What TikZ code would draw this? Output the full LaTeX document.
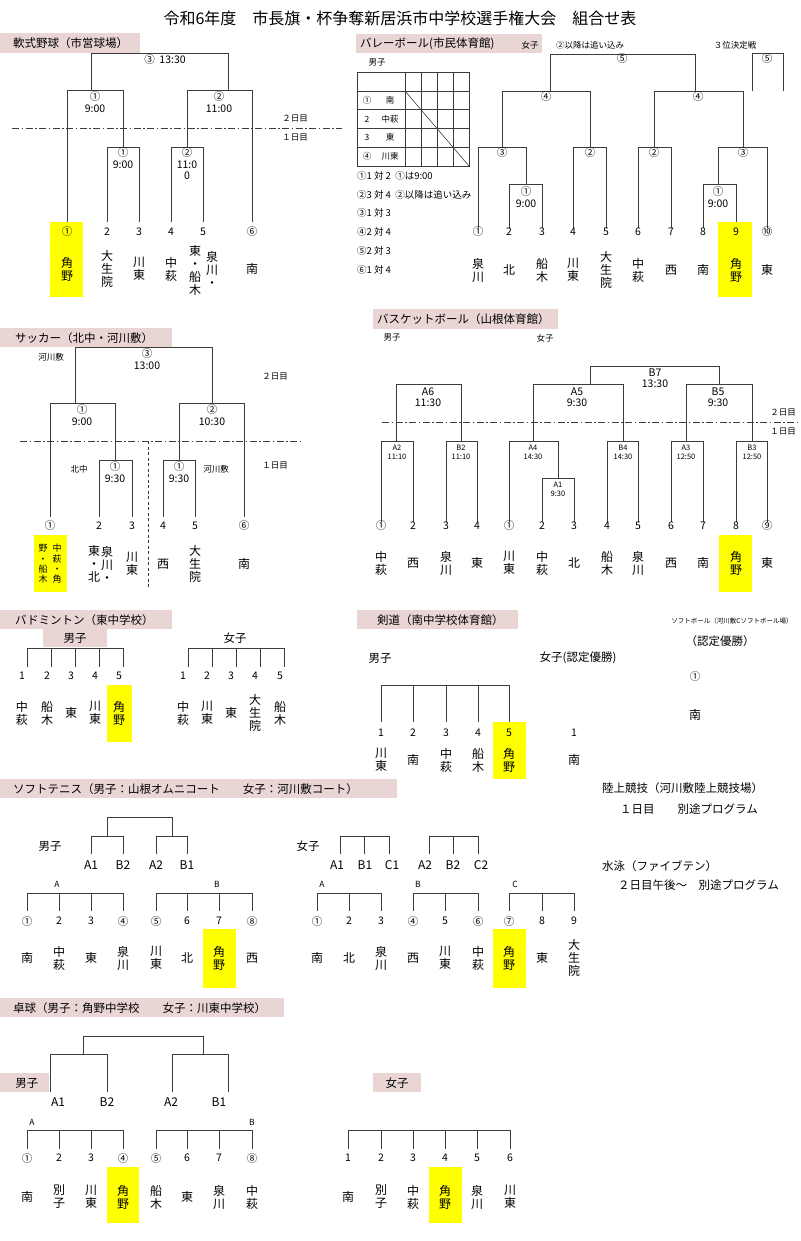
\documentclass[tikz,border=0pt]{standalone}
\usepackage{fontspec}
\setmainfont{Noto Sans CJK JP}
\usetikzlibrary{positioning}
\definecolor{kmPink}{HTML}{EAD5D5}
\definecolor{kmYellow}{HTML}{FFFF00}
\definecolor{kmLine}{HTML}{3C3C3C}
\tikzset{
  hdtext/.style={anchor=west, inner sep=0pt, font=\fontsize{11.5}{13}\selectfont},
  titletext/.style={inner sep=0pt, font=\fontsize{16}{18}\selectfont},
  brline/.style={draw=kmLine, line width=0.9pt},
  dayline/.style={draw=kmLine, line width=0.8pt, dash pattern=on 7pt off 2.5pt on 1.5pt off 2.5pt},
  splitline/.style={draw=kmLine, line width=0.7pt, dash pattern=on 3pt off 2.5pt},
  seednum/.style={inner sep=0pt, font=\fontsize{10.5}{12}\selectfont},
  school/.style={inner sep=0pt, align=center, font=\fontsize{12}{13}\selectfont},
  smschool/.style={inner sep=0pt, align=center, font=\fontsize{9}{10.3}\selectfont},
  boutlbl/.style={inner sep=0pt, align=center, font=\fontsize{10.5}{11.5}\selectfont},
  minilbl/.style={inner sep=0pt, align=center, font=\fontsize{7.5}{9}\selectfont},
  grplbl/.style={inner sep=0pt, font=\fontsize{12}{14}\selectfont},
  memo/.style={inner sep=0pt, font=\fontsize{8.5}{10}\selectfont},
  rulememo/.style={inner sep=0pt, anchor=west, font=\fontsize{9.5}{11}\selectfont},
  plain/.style={inner sep=0pt, font=\fontsize{11.5}{13}\selectfont},
}
\newcommand{\bout}[5]{\draw[brline] (#1,#4) |- (#2,#3) -- (#2,#5);}

\begin{document}
\begin{tikzpicture}[x=1pt, y=-1pt]
\useasboundingbox (0,0) rectangle (800,1241);
\node[titletext] (title) at (400,18) {令和6年度　市長旗・杯争奪新居浜市中学校選手権大会　組合せ表};

\fill[kmPink] (0,33) rectangle (140,53);
\node[hdtext] (bsHead) at (13,43) {軟式野球（市営球場）};
\bout{91}{228}{53}{90}{90}
\node[boutlbl] (bsF) at (165,60) {③\ \ 13:30};
\bout{67}{123}{90}{222}{147}
\bout{187}{252}{90}{147}{222}
\bout{107}{139}{147}{222}{222}
\bout{171}{203}{147}{222}{222}
\node[boutlbl] (bsS1) at (95,102) {①\\9:00};
\node[boutlbl] (bsS2) at (219,102) {②\\11:00};
\node[boutlbl] (bsR1) at (123,158) {①\\9:00};
\node[boutlbl] (bsR2) at (187,164) {②\\11:0\\0};
\draw[dayline] (12,128) -- (342,128);
\node[memo] (bsD2) at (295,119) {２日目};
\node[memo] (bsD1) at (295,138) {１日目};
\fill[kmYellow] (50,222) rectangle (83,297);
\foreach \x/\n [count=\i] in {67/①,107/2,139/3,171/4,203/5,252/⑥}
  \node[seednum] (bs-n\i) at (\x,232) {\n};
\foreach \x/\t [count=\i] in {67/{角\\野},107/{大\\生\\院},139/{川\\東},171/{中\\萩},252/南}
  \node[school] (bs-t\i) at (\x,269) {\t};
\node[school] (bs-t6a) at (212,269) {泉\\川\\・};
\node[school] (bs-t6b) at (195,270) {東\\・\\船\\木};

\fill[kmPink] (356,34) rectangle (542,53);
\node[hdtext] (vbHead) at (360,44) {バレーボール(市民体育館)};
\node[memo] (vbGirls) at (530,45) {女子};
\node[memo] (vbNote) at (590,45) {②以降は追い込み};
\node[memo] (vb3rd) at (735,45) {３位決定戦};
\node[memo] (vbBoys) at (377,63) {男子};
\draw[brline, line width=0.6pt] (357,72) rectangle (469,166);
\foreach \y in {91,109,128,147}
  \draw[brline, line width=0.6pt] (357,\y) -- (469,\y);
\foreach \x in {405,421,437,453}
  \draw[brline, line width=0.6pt] (\x,72) -- (\x,166);
\draw[brline, line width=0.6pt] (405,91) -- (469,166);
\foreach \y/\a/\b [count=\i] in {100/①/南,119/2/中萩,137/3/東,156/④/川東}{
  \node[memo] (vb-ra\i) at (367,\y) {\a};
  \node[memo] (vb-rb\i) at (390,\y) {\b};
}
\foreach \y/\t [count=\i] in {176/{①1 対 2\ \ ①は9:00},195/{②3 対 4\ \ ②以降は追い込み},213/③1 対 3,232/④2 対 4,251/⑤2 対 3,270/⑥1 対 4}
  \node[rulememo] (vb-m\i) at (357,\y) {\t};
\bout{550}{695}{54}{91}{91}
\bout{502}{590}{91}{147}{147}
\bout{654}{743}{91}{147}{147}
\bout{478}{526}{147}{228}{184}
\bout{509}{542}{184}{228}{228}
\bout{573}{606}{147}{228}{228}
\bout{638}{671}{147}{228}{228}
\bout{718}{767}{147}{184}{228}
\bout{703}{736}{184}{228}{228}
\bout{752}{783}{53}{91}{91}
\node[boutlbl] (vbF) at (622,59) {⑤};
\node[boutlbl] (vbT) at (767,59) {⑤};
\node[boutlbl] (vbS1) at (546,97) {④};
\node[boutlbl] (vbS2) at (698,97) {④};
\node[boutlbl] (vbQ1) at (502,153) {③};
\node[boutlbl] (vbQ2) at (590,153) {②};
\node[boutlbl] (vbQ3) at (654,153) {②};
\node[boutlbl] (vbQ4) at (743,153) {③};
\node[boutlbl] (vbR1) at (526,197) {①\\9:00};
\node[boutlbl] (vbR2) at (718,197) {①\\9:00};
\fill[kmYellow] (718,222) rectangle (752,297);
\foreach \x/\n [count=\i] in {478/①,509/2,542/3,573/4,606/5,638/6,671/7,703/8,736/9,767/⑩}
  \node[seednum] (vb-n\i) at (\x,232) {\n};
\foreach \x/\t [count=\i] in {478/{泉\\川},509/北,542/{船\\木},573/{川\\東},606/{大\\生\\院},638/{中\\萩},671/西,703/南,736/{角\\野},767/東}
  \node[school] (vb-t\i) at (\x,270) {\t};

\fill[kmPink] (0,328) rectangle (172,347);
\node[hdtext] (scHead) at (15,338) {サッカー（北中・河川敷）};
\node[memo] (scSite1) at (51,357) {河川敷};
\bout{75}{212}{347}{403}{403}
\node[boutlbl] (scF) at (147,359) {③\\13:00};
\node[memo] (scD2) at (275,377) {２日目};
\bout{50}{115}{403}{517}{460}
\bout{179}{244}{403}{460}{517}
\node[boutlbl] (scS1) at (82,415) {①\\9:00};
\node[boutlbl] (scS2) at (212,415) {②\\10:30};
\draw[dayline] (20,441) -- (302,441);
\draw[splitline] (148,441) -- (148,589);
\bout{99}{132}{460}{517}{517}
\bout{163}{195}{460}{517}{517}
\node[boutlbl] (scR1) at (115,472) {①\\9:30};
\node[boutlbl] (scR2) at (179,472) {①\\9:30};
\node[memo] (scSite2) at (79,469) {北中};
\node[memo] (scSite3) at (216,469) {河川敷};
\node[memo] (scD1) at (275,466) {１日目};
\fill[kmYellow] (34,535) rectangle (67,592);
\foreach \x/\n [count=\i] in {50/①,99/2,132/3,163/4,195/5,244/⑥}
  \node[seednum] (sc-n\i) at (\x,526) {\n};
\node[smschool] (sc-t1a) at (57,564) {中\\萩\\・\\角};
\node[smschool] (sc-t1b) at (43,564) {野\\・\\船\\木};
\node[school] (sc-t2a) at (107,564) {泉\\川\\・};
\node[school] (sc-t2b) at (94,564) {東\\・\\北};
\foreach \x/\t [count=\i] in {132/{川\\東},163/西,195/{大\\生\\院},244/南}
  \node[school] (sc-t\i) at (\x,564) {\t};

\fill[kmPink] (373,309) rectangle (558,329);
\node[hdtext] (bbHead) at (377,319) {バスケットボール（山根体育館）};
\node[memo] (bbBoys) at (392,338) {男子};
\node[memo] (bbGirls) at (545,338) {女子};
\bout{590}{719}{366}{384}{384}
\bout{396}{461}{384}{441}{441}
\bout{533}{623}{384}{441}{441}
\bout{686}{752}{384}{441}{441}
\node[boutlbl] (bbB7) at (655,378) {B7\\13:30};
\node[boutlbl] (bbA6) at (428,397) {A6\\11:30};
\node[boutlbl] (bbA5) at (577,397) {A5\\9:30};
\node[boutlbl] (bbB5) at (718,397) {B5\\9:30};
\draw[dayline] (382,422) -- (800,422);
\node[memo] (bbD2) at (783,413) {２日目};
\node[memo] (bbD1) at (783,432) {１日目};
\bout{381}{413}{441}{522}{522}
\bout{446}{477}{441}{522}{522}
\bout{509}{558}{441}{522}{478}
\bout{542}{574}{478}{522}{522}
\bout{607}{638}{441}{522}{522}
\bout{671}{703}{441}{522}{522}
\bout{736}{767}{441}{522}{522}
\foreach \x/\t [count=\i] in {397/{A2\\11:10},461/{B2\\11:10},533/{A4\\14:30},623/{B4\\14:30},686/{A3\\12:50},752/{B3\\12:50}}
  \node[minilbl] (bb-r\i) at (\x,452) {\t};
\node[minilbl] (bbA1) at (558,489) {A1\\9:30};
\fill[kmYellow] (719,535) rectangle (752,592);
\foreach \x/\n [count=\i] in {381/①,413/2,446/3,477/4,509/①,542/2,574/3,607/4,638/5,671/6,703/7,736/8,767/⑨}
  \node[seednum] (bb-n\i) at (\x,526) {\n};
\foreach \x/\t [count=\i] in {381/{中\\萩},413/西,446/{泉\\川},477/東,509/{川\\東},542/{中\\萩},574/北,607/{船\\木},638/{泉\\川},671/西,703/南,736/{角\\野},767/東}
  \node[school] (bb-t\i) at (\x,563) {\t};

\fill[kmPink] (0,610) rectangle (172,629);
\node[hdtext] (bdHead) at (15,620) {バドミントン（東中学校）};
\fill[kmPink] (43,629) rectangle (107,647);
\node[plain] (bdBoys) at (75,638) {男子};
\node[plain] (bdGirls) at (235,638) {女子};
\draw[brline] (27,648) -- (123,648);
\draw[brline] (188,648) -- (284,648);
\foreach \x in {27,51,75,99,123,188,212,236,260,284}
  \draw[brline] (\x,648) -- (\x,667);
\fill[kmYellow] (107,685) rectangle (132,742);
\foreach \x/\n [count=\i] in {22/1,47/2,71/3,95/4,119/5,183/1,207/2,231/3,255/4,280/5}
  \node[seednum] (bd-n\i) at (\x,676) {\n};
\foreach \x/\t [count=\i] in {22/{中\\萩},47/{船\\木},71/東,95/{川\\東},119/{角\\野},183/{中\\萩},207/{川\\東},231/東,255/{大\\生\\院},280/{船\\木}}
  \node[school] (bd-t\i) at (\x,713) {\t};

\fill[kmPink] (357,610) rectangle (518,629);
\node[hdtext] (kdHead) at (377,620) {剣道（南中学校体育館）};
\node[plain] (kdBoys) at (380,658) {男子};
\node[plain] (kdGirls) at (578,658) {女子(認定優勝)};
\draw[brline] (381,685) -- (509,685);
\foreach \x in {381,413,446,478,509}
  \draw[brline] (\x,685) -- (\x,722);
\fill[kmYellow] (493,722) rectangle (526,779);
\foreach \x/\n [count=\i] in {381/1,413/2,446/3,478/4,509/5,574/1}
  \node[seednum] (kd-n\i) at (\x,733) {\n};
\foreach \x/\t [count=\i] in {381/{川\\東},413/南,446/{中\\萩},478/{船\\木},509/{角\\野},574/南}
  \node[school] (kd-t\i) at (\x,760) {\t};
\node[inner sep=0pt, font=\fontsize{6.5}{8}\selectfont] (sbHead) at (732,621) {ソフトボール（河川敷Cソフトボール場）};
\node[plain] (sbNote) at (720,641) {（認定優勝）};
\node[seednum] (sb-n1) at (695,677) {①};
\node[school] (sb-t1) at (695,715) {南};

\fill[kmPink] (0,779) rectangle (397,798);
\node[hdtext] (stHead) at (13,789) {ソフトテニス（男子：山根オムニコート　　女子：河川敷コート）};
\bout{107}{172}{817}{836}{836}
\bout{91}{123}{836}{854}{854}
\bout{156}{187}{836}{854}{854}
\node[plain] (stBoys) at (50,846) {男子};
\node[plain] (stGirls) at (308,846) {女子};
\draw[brline] (340,836) -- (389,836);
\draw[brline] (429,836) -- (478,836);
\foreach \x in {340,364,389,429,453,478}
  \draw[brline] (\x,836) -- (\x,854);
\foreach \x/\t [count=\i] in {91/A1,123/B2,156/A2,187/B1,337/A1,365/B1,392/C1,425/A2,453/B2,481/C2}
  \node[grplbl] (st-p\i) at (\x,865) {\t};
\foreach \x/\t [count=\i] in {57/A,217/B,322/A,418/B,515/C}
  \node[memo] (st-g\i) at (\x,884) {\t};
\foreach \a/\b in {27/123,156/252,317/381,413/478,509/574}
  \draw[brline] (\a,893) -- (\b,893);
\foreach \x in {27,59,91,123,156,187,219,252,317,349,381,413,445,478,509,542,574}
  \draw[brline] (\x,893) -- (\x,911);
\fill[kmYellow] (203,929) rectangle (236,988);
\fill[kmYellow] (493,929) rectangle (526,988);
\foreach \x/\n [count=\i] in {27/①,59/2,91/3,123/④,156/⑤,187/6,219/7,252/⑧,317/①,349/2,381/3,413/④,445/5,478/⑥,509/⑦,542/8,574/9}
  \node[seednum] (st-n\i) at (\x,921) {\n};
\foreach \x/\t [count=\i] in {27/南,59/{中\\萩},91/東,123/{泉\\川},156/{川\\東},187/北,219/{角\\野},252/西,317/南,349/北,381/{泉\\川},413/西,445/{川\\東},478/{中\\萩},509/{角\\野},542/東,574/{大\\生\\院}}
  \node[school] (st-t\i) at (\x,958) {\t};
\node[plain, anchor=west] (trHead) at (602,788) {陸上競技（河川敷陸上競技場）};
\node[plain, anchor=west] (trNote) at (620,809) {１日目　　別途プログラム};
\node[plain, anchor=west] (swHead) at (602,866) {水泳（ファイブテン）};
\node[plain, anchor=west] (swNote) at (618,885) {２日目午後～　別途プログラム};

\fill[kmPink] (0,998) rectangle (284,1017);
\node[hdtext] (ttHead) at (13,1008) {卓球（男子：角野中学校　　女子：川東中学校）};
\fill[kmPink] (0,1073) rectangle (49,1092);
\node[plain] (ttBoys) at (27,1083) {男子};
\fill[kmPink] (373,1073) rectangle (421,1092);
\node[plain] (ttGirls) at (397,1083) {女子};
\bout{83}{203}{1036}{1054}{1054}
\bout{50}{107}{1054}{1092}{1092}
\bout{172}{228}{1054}{1092}{1092}
\foreach \x/\t [count=\i] in {58/A1,107/B2,171/A2,219/B1}
  \node[grplbl] (tt-p\i) at (\x,1102) {\t};
\node[memo] (tt-g1) at (32,1122) {A};
\node[memo] (tt-g2) at (252,1122) {B};
\foreach \a/\b in {27/123,156/252,348/510}
  \draw[brline] (\a,1130) -- (\b,1130);
\foreach \x in {27,59,91,123,156,187,219,252,348,381,413,445,477,510}
  \draw[brline] (\x,1130) -- (\x,1149);
\fill[kmYellow] (107,1167) rectangle (139,1223);
\fill[kmYellow] (429,1167) rectangle (462,1223);
\foreach \x/\n [count=\i] in {27/①,59/2,91/3,123/④,156/⑤,187/6,219/7,252/⑧,348/1,381/2,413/3,445/4,477/5,510/6}
  \node[seednum] (tt-n\i) at (\x,1158) {\n};
\foreach \x/\t [count=\i] in {27/南,59/{別\\子},91/{川\\東},123/{角\\野},156/{船\\木},187/東,219/{泉\\川},252/{中\\萩},348/南,381/{別\\子},413/{中\\萩},445/{角\\野},477/{泉\\川},510/{川\\東}}
  \node[school] (tt-t\i) at (\x,1197) {\t};
\end{tikzpicture}
\end{document}
